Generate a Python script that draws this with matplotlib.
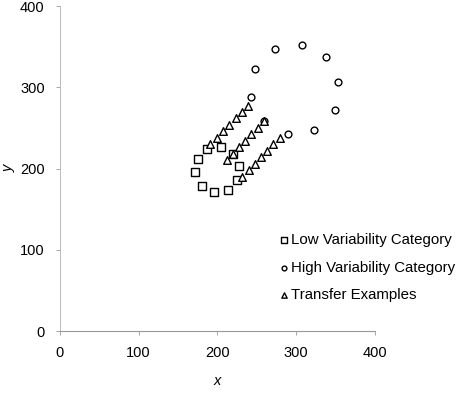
import matplotlib
matplotlib.use("Agg")
import matplotlib.pyplot as plt

plt.rcParams['font.family'] = ['Liberation Sans', 'DejaVu Sans']

# low variability category (squares)
low_x = [172, 175, 187, 204, 220, 227, 225, 213, 196, 180]
low_y = [196, 212, 224, 227, 218, 203, 186, 174, 171, 179]

# high variability category (circles)
high_x = [243, 248, 273, 307, 338, 353, 349, 323, 290, 259]
high_y = [288, 322, 347, 352, 337, 306, 272, 247, 242, 258]

# transfer examples (triangles), three diagonal rows
transfer_x = [191, 199, 207, 215, 223, 231, 239,
              212, 220, 227, 235, 243, 251, 259,
              231, 240, 248, 255, 263, 271, 279]
transfer_y = [230, 238, 246, 254, 262, 270, 277,
              210, 218, 226, 234, 242, 250, 258,
              190, 198, 206, 214, 222, 230, 237]

fig = plt.figure(figsize=(4.61, 4.07), dpi=100)
ax = fig.add_axes([0.130, 0.1867, 0.6833, 0.7985])

ax.scatter(low_x, low_y, marker='s', s=34, facecolors='white',
           edgecolors='black', linewidths=1.0, label='Low Variability Category', zorder=3)
ax.scatter(high_x, high_y, marker='o', s=24, facecolors='white',
           edgecolors='black', linewidths=1.0, label='High Variability Category', zorder=3)
ax.scatter(transfer_x, transfer_y, marker='^', s=30, facecolors='white',
           edgecolors='black', linewidths=1.0, label='Transfer Examples', zorder=3)

ax.set_xlim(0, 400)
ax.set_ylim(0, 400)
ax.set_xticks([0, 100, 200, 300, 400])
ax.set_yticks([0, 100, 200, 300, 400])

for side in ['top', 'right']:
    ax.spines[side].set_visible(False)
ax.spines['left'].set_color('#bbbbbb')
ax.spines['left'].set_linewidth(0.7)
ax.spines['bottom'].set_color('#999999')
ax.spines['bottom'].set_linewidth(0.8)

ax.tick_params(axis='both', length=3, width=0.6, color='#999999',
               labelsize=10.5, labelcolor='black')
ax.tick_params(axis='x', pad=8)
ax.tick_params(axis='y', pad=8)

ax.set_xlabel('x', fontsize=10.5, style='italic', labelpad=10)
ax.set_ylabel('y', fontsize=10.5, style='italic', labelpad=3)

ax.legend(loc='lower left', bbox_to_anchor=(0.700, 0.089), frameon=False,
          fontsize=10.8, handletextpad=0.2, labelspacing=0.9,
          borderaxespad=0, borderpad=0, handlelength=0.5, markerscale=0.7)

fig.savefig('out.png', dpi=100)
